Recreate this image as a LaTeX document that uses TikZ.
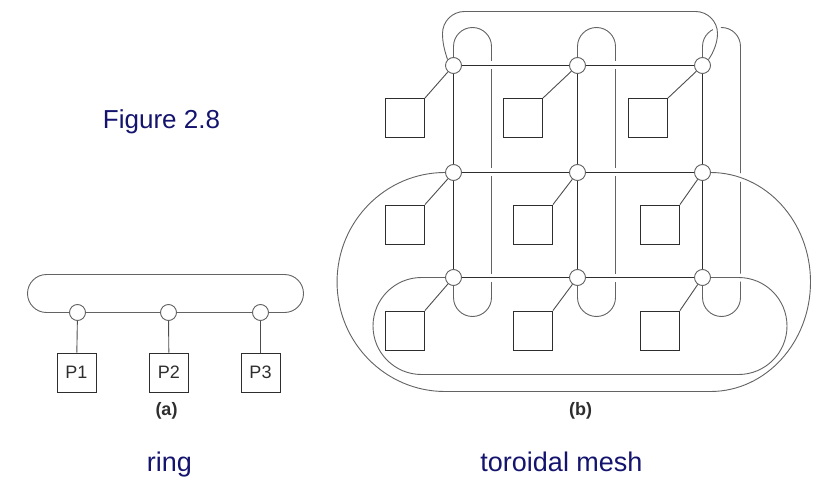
\documentclass[tikz,border=0pt]{standalone}
\usepackage{fontspec}
\setmainfont{Liberation Sans}
\usetikzlibrary{backgrounds}
\definecolor{azul}{HTML}{14146E}
\definecolor{gris}{HTML}{636363}
\definecolor{oscuro}{HTML}{2E2E2E}
\tikzset{
  conmut/.style={circle,draw=gris,fill=white,line width=0.9pt,minimum size=16pt,inner sep=0pt},
  proc/.style={rectangle,draw=oscuro,fill=white,line width=0.9pt,minimum size=39pt,inner sep=0pt,
    text=oscuro,font=\fontsize{18}{20}\selectfont},
  malla/.style={draw=oscuro,line width=1pt},
  enlace/.style={draw=oscuro!85,line width=0.9pt},
  envuelta/.style={draw=gris,line width=0.9pt},
  corte/.style={preaction={draw=white,line width=8pt}},
  titulo/.style={text=azul,font=\fontsize{27}{32}\selectfont,anchor=base},
  etiq/.style={text=oscuro,font=\bfseries\fontsize{18}{20}\selectfont,anchor=base}
}

\begin{document}
\begin{tikzpicture}[x=1pt,y=1pt]
\useasboundingbox (-0.5,0.5) rectangle (837.5,-491.5);

% (a) anillo
\foreach \x [count=\i] in {77,168,260}
  \node[conmut] (r\i) at (\x,-312) {};
\foreach \x [count=\i] in {76,168.5,260}
  \node[proc] (P\i) at (\x,-372) {P\i};

% (b) malla toroidal
\foreach \y [count=\r] in {65,172,277}
  \foreach \x [count=\c] in {453,577,702}
    \node[conmut] (s\r\c) at (\x,-\y) {};
\foreach \x [count=\c] in {404.5,522.5,647.5}
  \node[proc] (p1\c) at (\x,-117.5) {};
\foreach \y [count=\r from 2] in {224,330}
  \foreach \x [count=\c] in {404.5,532.5,659.5}
    \node[proc] (p\r\c) at (\x,-\y) {};

\begin{scope}[on background layer]
  \draw[envuelta] (r1.west) -- (46,-312) arc[start angle=270,end angle=90,radius=19]
    -- (284,-274) arc[start angle=90,end angle=-90,radius=19] -- (r3.east);
  \draw[envuelta] (r1) -- (r2) -- (r3);
  \foreach \i in {1,2,3}
    \draw[enlace] (r\i) -- (P\i);

  % columnas: vuelta vertical
  \foreach \x [count=\c] in {453,577,702}
    \draw[envuelta] (s1\c.north) -- (\x,-46) arc[start angle=180,end angle=0,radius=19]
      -- (\x+38,-297) arc[start angle=0,end angle=-180,radius=19] -- (s3\c.south);
  \foreach \c in {1,2,3}
    \draw[malla] (s1\c) -- (s2\c) -- (s3\c);
  \foreach \r in {1,2,3}
    \draw[malla,corte] (s\r1) -- (s\r2) -- (s\r3);

  % filas: vuelta horizontal
  \draw[envuelta,corte] (s11.135) .. controls (444,-50) and (442,-42) .. (442,-33)
    arc[start angle=180,end angle=90,radius=22] -- (695,-11)
    arc[start angle=90,end angle=0,radius=22] .. controls (717,-42) and (713,-52) .. (s13.45);
  \draw[envuelta,corte] (s21.west) arc[start angle=90,end angle=270,x radius=108,y radius=109.5]
    -- (710,-391) arc[start angle=-90,end angle=90,x radius=100,y radius=109.5];
  \draw[envuelta,corte] (s31.west) -- (421,-277) arc[start angle=90,end angle=270,radius=48.5]
    -- (738,-374) arc[start angle=-90,end angle=90,radius=48.5] -- (s33.east);

  \foreach \r in {1,2,3}
    \foreach \c in {1,2,3}
      \draw[enlace] (p\r\c.north east) -- (s\r\c);
\end{scope}

\node[etiq] (etqa) at (166,-415) {(a)};
\node[etiq] (etqb) at (580,-415) {(b)};
\node[titulo,font=\fontsize{26}{30}\selectfont] (figura) at (161,-128) {Figure 2.8};
\node[titulo] (anillo) at (169,-471) {ring};
\node[titulo] (toro) at (561,-471) {toroidal mesh};
\end{tikzpicture}
\end{document}
